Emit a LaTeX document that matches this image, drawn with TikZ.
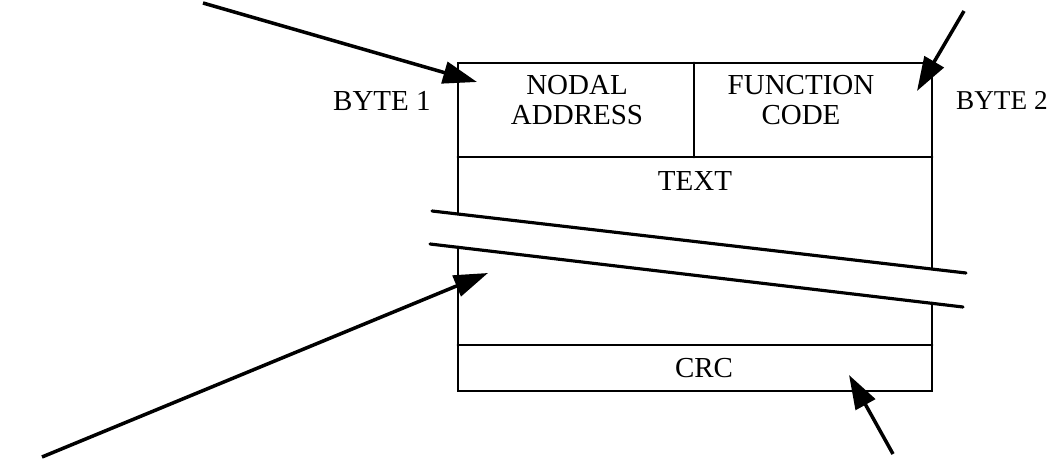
\documentclass[tikz,border=0pt]{standalone}
\usepackage{fontspec}
\setmainfont{Liberation Serif}
\usetikzlibrary{arrows.meta}
\begin{document}
\begin{tikzpicture}[x=0.02cm,y=-0.02cm,
  frame/.style={line width=1.6pt, line cap=round},
  breakline/.style={line width=1.8pt, line cap=round},
  pointer/.style={line width=2pt, -{Triangle[length=0.68cm,width=0.44cm]}},
  lbl/.style={font=\fontsize{16.5}{17.5}\selectfont, align=center, inner sep=0pt}]
\useasboundingbox (0,0) rectangle (1051,459);
% frame
\draw[frame] (458,214) -- (458,63) -- (932,63) -- (932,269);
\draw[frame] (458,247) -- (458,391) -- (932,391) -- (932,303);
\draw[frame] (458,157) -- (932,157);
\draw[frame] (694,63) -- (694,157);
\draw[frame] (458,345) -- (932,345);
% break lines
\draw[breakline] (432,211) -- (966,273);
\draw[breakline] (430,244) -- (963,307);
% labels
\node[lbl] (nodal) at (577,100) {NODAL\\ADDRESS};
\node[lbl] (func) at (801,100) {FUNCTION\\CODE};
\node[lbl, anchor=east] (byte1) at (431,101) {BYTE 1};
\node[lbl, anchor=east, font=\fontsize{15.5}{17}\selectfont] (byte2) at (1048,101) {BYTE 2};
\node[lbl] (text) at (695,181) {TEXT};
\node[lbl] (crc) at (704,368) {CRC};
% pointers
\coordinate (a1s) at (203,3);   \coordinate (a1e) at (477,82);
\coordinate (a2s) at (964,11);  \coordinate (a2e) at (917,91);
\coordinate (a3s) at (42,457);  \coordinate (a3e) at (488,273);
\coordinate (a4s) at (893,454); \coordinate (a4e) at (849,375);
\draw[pointer] (a1s) -- (a1e);
\draw[pointer] (a2s) -- (a2e);
\draw[pointer] (a3s) -- (a3e);
\draw[pointer] (a4s) -- (a4e);
\end{tikzpicture}
\end{document}
